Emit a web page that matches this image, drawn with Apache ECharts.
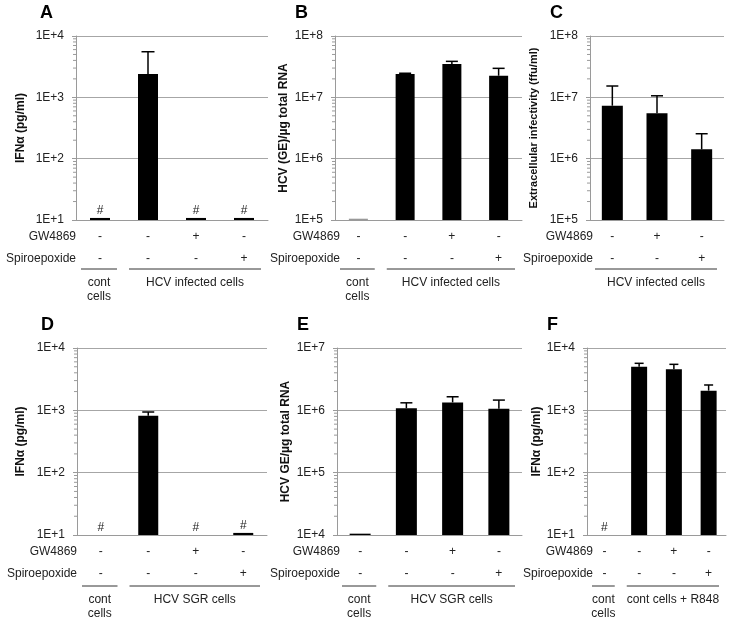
<!DOCTYPE html>
<html>
<head>
<meta charset="utf-8">
<script src="https://cdn.jsdelivr.net/npm/echarts@6/dist/echarts.min.js"></script>
<style>
  html, body { margin: 0; padding: 0; background: #fff; }
  #main { width: 729px; height: 622px; }
</style>
</head>
<body>
<div id="main"></div>
<script>
// treatment rows (+ / -) under each bar
var gwA = ['-', '-', '+', '-'];
var spiroA = ['-', '-', '-', '+'];
var gwC = ['-', '+', '-'];
var spiroC = ['-', '-', '+'];

// bar means and upper error values
var meanA = [10.8, 2400, 10.8, 10.8];
var errA = [null, 5540, null, null];
var ndA = [true, false, true, true];

var meanB = [1.05e5, 2.4e7, 3.5e7, 2.25e7];
var errB = [null, 2.47e7, 3.86e7, 2.97e7];
var ndB = [false, false, false, false];

var meanC = [7.3e6, 5.5e6, 1.42e6];
var errC = [1.53e7, 1.06e7, 2.55e6];
var ndC = [false, false, false];

var meanD = [10, 819, 10, 10.8];
var errD = [null, 940, null, null];
var ndD = [true, false, true, true];

var meanE = [1.05e4, 1.08e6, 1.34e6, 1.06e6];
var errE = [null, 1.32e6, 1.65e6, 1.46e6];
var ndE = [false, false, false, false];

var meanF = [10, 5000, 4550, 2070];
var errF = [null, 5680, 5470, 2550];
var ndF = [true, false, false, false];

// axis ranges (decades) and minor tick mantissas
var rangeA = [1e1, 1e4];
var rangeB = [1e5, 1e8];
var rangeC = [1e5, 1e8];
var rangeD = [1e1, 1e4];
var rangeE = [1e4, 1e7];
var rangeF = [1e1, 1e4];
var minorMantissas = [2, 3, 4, 5, 6, 7, 8, 9];

var FONT = '"Liberation Sans", Arial, sans-serif';

var panels = [
  { letter: 'A', mean: meanA, err: errA, nd: ndA, gw: gwA, spiro: spiroA, range: rangeA,
    name: 'IFNα (pg/ml)', nameGap: 49, nameSize: 12,
    grid: { left: 76, top: 36, width: 192, height: 184 }, barWidth: 20, capW: 13,
    headX: 76, rowTop: true, firstColor: '#000',
    groups: [{ from: 0, to: 0, text: 'cont\ncells' }, { from: 1, to: 3, text: 'HCV infected cells' }] },
  { letter: 'B', mean: meanB, err: errB, nd: ndB, gw: gwA, spiro: spiroA, range: rangeB,
    name: 'HCV (GE)/µg total RNA', nameGap: 45, nameSize: 12,
    grid: { left: 335, top: 36, width: 187, height: 184 }, barWidth: 19, capW: 12,
    headX: 340, rowTop: true, firstColor: '#999',
    groups: [{ from: 0, to: 0, text: 'cont\ncells' }, { from: 1, to: 3, text: 'HCV infected cells' }] },
  { letter: 'C', mean: meanC, err: errC, nd: ndC, gw: gwC, spiro: spiroC, range: rangeC,
    name: 'Extracellular infectivity (ffu/ml)', nameGap: 51, nameSize: 11,
    grid: { left: 590, top: 36, width: 134, height: 184 }, barWidth: 21, capW: 12,
    headX: 593, rowTop: true, firstColor: '#000',
    groups: [{ from: 0, to: 2, text: 'HCV infected cells' }] },
  { letter: 'D', mean: meanD, err: errD, nd: ndD, gw: gwA, spiro: spiroA, range: rangeD,
    name: 'IFNα (pg/ml)', nameGap: 50, nameSize: 12,
    grid: { left: 77, top: 348, width: 190, height: 187 }, barWidth: 20, capW: 12,
    headX: 77, rowTop: false, firstColor: '#000',
    groups: [{ from: 0, to: 0, text: 'cont\ncells' }, { from: 1, to: 3, text: 'HCV SGR cells' }] },
  { letter: 'E', mean: meanE, err: errE, nd: ndE, gw: gwA, spiro: spiroA, range: rangeE,
    name: 'HCV GE/µg total RNA', nameGap: 45, nameSize: 12,
    grid: { left: 337, top: 348, width: 185, height: 187 }, barWidth: 21, capW: 12,
    headX: 340, rowTop: false, firstColor: '#000',
    groups: [{ from: 0, to: 0, text: 'cont\ncells' }, { from: 1, to: 3, text: 'HCV SGR cells' }] },
  { letter: 'F', mean: meanF, err: errF, nd: ndF, gw: gwA, spiro: spiroA, range: rangeF,
    name: 'IFNα (pg/ml)', nameGap: 44, nameSize: 12,
    grid: { left: 587, top: 348, width: 139, height: 187 }, barWidth: 16, capW: 9,
    headX: 593, rowTop: false, firstColor: '#000',
    groups: [{ from: 0, to: 0, text: 'cont\ncells' }, { from: 1, to: 3, text: 'cont cells + R848' }] }
];

var grids = [], xAxes = [], yAxes = [], series = [], graphics = [];

panels.forEach(function (p, k) {
  grids.push(p.grid);
  var cats = p.mean.map(function (v, i) { return String(i); });
  xAxes.push({
    type: 'category', gridIndex: k, data: cats,
    axisLine: { show: true, lineStyle: { color: '#9a9a9a', width: 1 } },
    axisTick: { show: false },
    axisLabel: {
      margin: 6, fontSize: 12, fontFamily: FONT, color: '#222', lineHeight: 22,
      formatter: function (v, i) { return p.gw[i] + '\n' + p.spiro[i]; }
    }
  });
  yAxes.push({
    type: 'log', logBase: 10, gridIndex: k, min: p.range[0], max: p.range[1],
    name: p.name, nameLocation: 'middle', nameRotate: 90, nameGap: p.nameGap,
    nameTextStyle: { fontFamily: FONT, fontWeight: 'bold', fontSize: p.nameSize, color: '#111' },
    axisLine: { show: true, lineStyle: { color: '#9a9a9a', width: 1 } },
    axisTick: { show: true, length: 4, lineStyle: { color: '#9a9a9a' } },
    axisLabel: {
      margin: 12, fontSize: 12, fontFamily: FONT, color: '#222',
      formatter: function (v) { return '1E+' + Math.round(Math.log10(v)); }
    },
    splitLine: { show: true, lineStyle: { color: '#a6a6a6', width: 1 } }
  });

  series.push({
    type: 'bar', xAxisIndex: k, yAxisIndex: k, barWidth: p.barWidth,
    data: p.mean.map(function (v, i) {
      return { value: v, itemStyle: { color: i === 0 ? p.firstColor : '#000' } };
    }),
    label: {
      show: true, position: 'top', distance: 1, fontSize: 12, fontFamily: FONT, color: '#222',
      formatter: function (q) { return p.nd[q.dataIndex] ? '#' : ''; }
    },
    silent: true, animation: false
  });

  var errData = [];
  p.err.forEach(function (e, i) { if (e != null) errData.push([i, e, p.mean[i]]); });
  series.push({
    type: 'custom', xAxisIndex: k, yAxisIndex: k, data: errData,
    encode: { x: 0, y: 1 }, z: 3, silent: true, animation: false,
    renderItem: function (params, api) {
      var top = api.coord([api.value(0), api.value(1)]);
      var base = api.coord([api.value(0), api.value(2)]);
      var h = p.capW / 2;
      return {
        type: 'group', children: [
          { type: 'line', shape: { x1: top[0], y1: top[1], x2: base[0], y2: base[1] }, style: { stroke: '#000', lineWidth: 1.5 } },
          { type: 'line', shape: { x1: top[0] - h, y1: top[1], x2: top[0] + h, y2: top[1] }, style: { stroke: '#000', lineWidth: 1.5 } }
        ]
      };
    }
  });

  // log minor ticks on the value axis
  var minors = [];
  for (var d = p.range[0]; d < p.range[1]; d *= 10) {
    minorMantissas.forEach(function (m) { minors.push([0, m * d]); });
  }
  series.push({
    type: 'custom', xAxisIndex: k, yAxisIndex: k, data: minors,
    encode: { x: 0, y: 1 }, silent: true, animation: false, clip: false,
    renderItem: function (params, api) {
      var y = api.coord([0, api.value(1)])[1];
      var x = params.coordSys.x;
      return { type: 'line', shape: { x1: x - 3, y1: y, x2: x, y2: y }, style: { stroke: '#9a9a9a', lineWidth: 1 } };
    }
  });

  // panel letter and row headers
  var rowY = p.rowTop ? [237, 259] : [552, 574];
  graphics.push({
    type: 'text', x: p.grid.left - (p.letter === 'A' || p.letter === 'D' ? 36 : 40), y: p.grid.top - 23,
    style: { text: p.letter, font: 'bold 18px ' + FONT, fill: '#000', textVerticalAlign: 'middle' }
  });
  graphics.push({
    type: 'text', x: p.headX, y: rowY[0],
    style: { text: 'GW4869', font: '12px ' + FONT, fill: '#222', textAlign: 'right', textVerticalAlign: 'middle' }
  });
  graphics.push({
    type: 'text', x: p.headX, y: rowY[1],
    style: { text: 'Spiroepoxide', font: '12px ' + FONT, fill: '#222', textAlign: 'right', textVerticalAlign: 'middle' }
  });
});

var myChart = echarts.init(document.getElementById('main'));
myChart.setOption({
  backgroundColor: '#fff',
  animation: false,
  grid: grids,
  xAxis: xAxes,
  yAxis: yAxes,
  series: series
});

// group brackets under the treatment rows
panels.forEach(function (p, k) {
  var c0 = myChart.convertToPixel({ xAxisIndex: k }, '0');
  var c1 = myChart.convertToPixel({ xAxisIndex: k }, '1');
  var bw = c1 - c0;
  var lineY = p.rowTop ? 269 : 586;
  p.groups.forEach(function (g) {
    var x0 = c0 + g.from * bw - bw / 2 + 5;
    var x1 = c0 + g.to * bw + bw / 2 - 7;
    graphics.push({
      type: 'line', shape: { x1: x0, y1: lineY, x2: x1, y2: lineY },
      style: { stroke: '#333', lineWidth: 1 }
    });
    graphics.push({
      type: 'text', x: (x0 + x1) / 2, y: lineY + 7,
      style: { text: g.text, font: '12px ' + FONT, fill: '#222', textAlign: 'center', textVerticalAlign: 'top', lineHeight: 14 }
    });
  });
});
myChart.setOption({ graphic: graphics });
</script>
</body>
</html>
